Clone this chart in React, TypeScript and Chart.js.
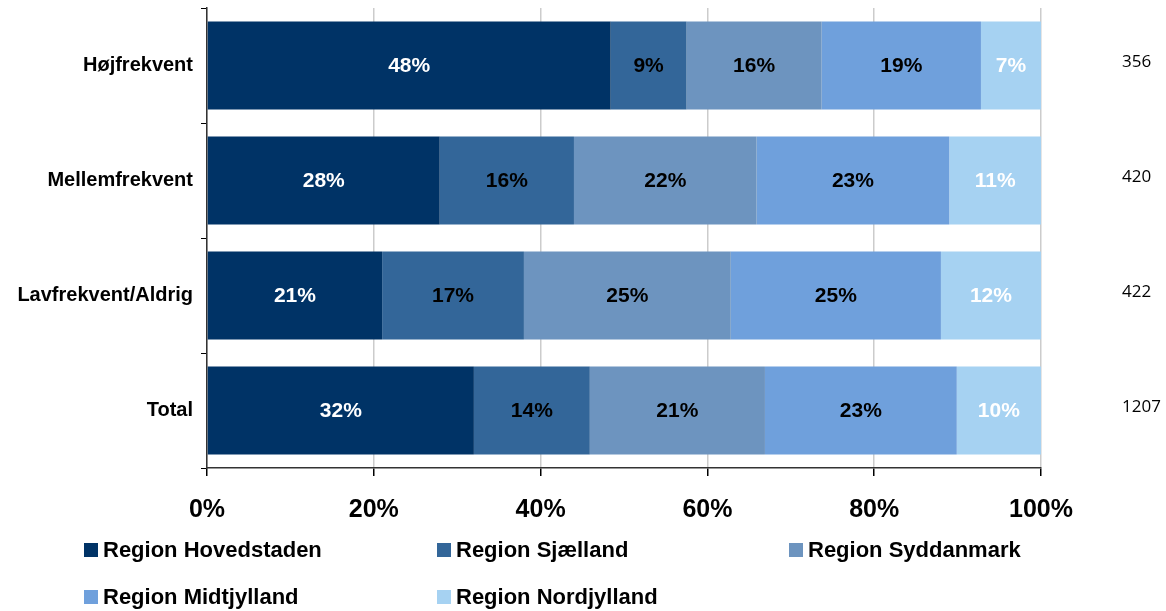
import React, { useEffect, useRef } from "react";
import { Chart, registerables } from "chart.js";

Chart.register(...registerables);

const categories = ["Højfrekvent", "Mellemfrekvent", "Lavfrekvent/Aldrig", "Total"];
const seriesNames = ["Region Hovedstaden", "Region Sjælland", "Region Syddanmark", "Region Midtjylland", "Region Nordjylland"];
const hovedstaden = [48.4, 27.9, 21.0, 32.0];
const sjaelland = [9.1, 16.1, 17.0, 13.9];
const syddanmark = [16.2, 21.9, 24.8, 21.0];
const midtjylland = [19.1, 23.1, 25.2, 23.0];
const nordjylland = [7.2, 11.0, 12.0, 10.1];
const totals = ["356", "420", "422", "1207"];
const xTicks = [0, 20, 40, 60, 80, 100];

const colors = ["#003366", "#336699", "#6d94bf", "#6fa0dc", "#a6d2f2"];
const labelColors = ["#ffffff", "#000000", "#000000", "#000000", "#ffffff"];
const FONT = "'Liberation Sans', Arial, sans-serif";

export default function App() {
  const ref = useRef<HTMLCanvasElement | null>(null);
  useEffect(() => {
    if (!ref.current) return;
    const series = [hovedstaden, sjaelland, syddanmark, midtjylland, nordjylland];
    const labelsPlugin = {
      id: "labelsPlugin",
      afterDatasetsDraw(chart: any) {
        const ctx = chart.ctx;
        ctx.save();
        ctx.font = `bold 21px ${FONT}`;
        ctx.textAlign = "center";
        ctx.textBaseline = "middle";
        chart.data.datasets.forEach((ds: any, i: number) => {
          const meta = chart.getDatasetMeta(i);
          meta.data.forEach((bar: any, j: number) => {
            ctx.fillStyle = labelColors[i];
            const cx = (bar.x + bar.base) / 2;
            ctx.fillText(Math.round(ds.data[j]) + "%", cx, bar.y + 1);
          });
        });
        // totals on the right
        ctx.font = `17px 'Open Sans', sans-serif`;
        ctx.fillStyle = "#000";
        ctx.textAlign = "left";
        const ys = chart.scales.y;
        totals.forEach((t, j) => {
          ctx.fillText(t, 1122, ys.getPixelForValue(j) - 3);
        });
        // legend
        const cols = [84, 437, 789];
        const rows = [550, 597];
        ctx.font = `bold 22px ${FONT}`;
        chart.data.datasets.forEach((ds: any, i: number) => {
          const x = cols[i % 3];
          const y = rows[Math.floor(i / 3)];
          ctx.fillStyle = ds.backgroundColor;
          ctx.fillRect(x, y - 7, 14, 14);
          ctx.fillStyle = "#000";
          ctx.fillText(ds.label, x + 19, y + 1);
        });
        ctx.restore();
      },
    };
    const chart = new Chart(ref.current, {
      type: "bar",
      data: {
        labels: categories,
        datasets: series.map((d, i) => ({
          label: seriesNames[i],
          data: d,
          backgroundColor: colors[i],
          borderWidth: 0,
          barPercentage: 0.765,
          categoryPercentage: 1,
        })),
      },
      options: {
        indexAxis: "y",
        responsive: false,
        animation: false,
        layout: { padding: { top: 8, right: 125, bottom: 83, left: 0 } },
        plugins: { legend: { display: false }, tooltip: { enabled: false } },
        scales: {
          x: {
            stacked: true,
            min: 0,
            max: 100,
            afterBuildTicks(scale: any) {
              scale.ticks = xTicks.map((v) => ({ value: v }));
            },
            afterFit(scale: any) {
              scale.height = 60;
              scale.paddingLeft = 0;
              scale.paddingRight = 0;
            },
            ticks: {
              callback: (v: any) => v + "%",
              color: "#000",
              font: { family: FONT, size: 25, weight: "bold" },
              padding: 19,
              maxRotation: 0,
            },
            grid: {
              color: "#cccccc",
              lineWidth: 1.5,
              drawTicks: true,
              tickLength: 8,
              tickColor: "#000",
            },
            border: { display: true, color: "#333", width: 1.5 },
          },
          y: {
            stacked: true,
            afterFit(scale: any) {
              scale.width = 207;
              scale.paddingTop = 0;
              scale.paddingBottom = 0;
            },
            ticks: {
              color: "#000",
              font: { family: FONT, size: 20, weight: "bold" },
              padding: 8,
            },
            grid: {
              offset: true,
              drawOnChartArea: false,
              drawTicks: true,
              tickLength: 6,
              tickColor: "#000",
              color: "#000",
            },
            border: { display: true, color: "#333", width: 1.5 },
          },
        },
      },
      plugins: [labelsPlugin],
    } as any);
    return () => chart.destroy();
  }, []);
  return (
    <div style={{ position: "absolute", left: 0, top: 0, width: 1166, height: 611, background: "#fff" }}>
      <canvas ref={ref} width={1166} height={611} style={{ display: "block" }} />
    </div>
  );
}
